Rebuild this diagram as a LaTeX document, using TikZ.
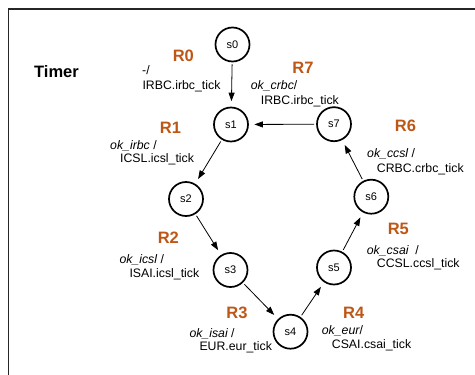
\documentclass[tikz,border=0pt]{standalone}
\usepackage{fontspec}
\setmainfont{Liberation Sans}
\usetikzlibrary{arrows.meta}
\definecolor{rlab}{RGB}{190,86,22}
\tikzset{
  state/.style={circle, draw, line width=1.7pt, minimum size=34pt, inner sep=0pt, font=\fontsize{11}{13}\selectfont},
  trans/.style={-{Triangle[length=8.5pt,width=6pt]}, line width=0.8pt, shorten <=2pt, shorten >=5.5pt},
  rname/.style={font=\fontsize{16.5}{18}\selectfont\bfseries, text=rlab, inner sep=0pt},
  guard/.style={anchor=base west, inner sep=0pt, font=\fontsize{12.3}{14}\selectfont\itshape},
  act/.style={anchor=base west, inner sep=0pt, font=\fontsize{12.3}{14}\selectfont},
  frame/.style={line width=1.2pt, draw=black!85}
}
\begin{document}
\begin{tikzpicture}[x=1pt,y=-1pt]
\useasboundingbox (0,0) rectangle (475,375);
\coordinate (fb) at (8.5,375);
\coordinate (fc) at (8.5,9);
\coordinate (fr) at (475,9);
\draw[frame] (fb) -- (fc) -- (fr);
\node[font=\fontsize{16.5}{18}\selectfont\bfseries, inner sep=0pt] (timer) at (56.5,72) {Timer};
% states
\node[state] (s0) at (232.5,44.5) {s0};
\node[state] (s1) at (231,124.5) {s1};
\node[state] (s2) at (186,199) {s2};
\node[state] (s3) at (230.5,270) {s3};
\node[state] (s4) at (290.5,331.7) {s4};
\node[state] (s5) at (334,267.5) {s5};
\node[state] (s6) at (371.3,196.7) {s6};
\node[state] (s7) at (334,124.2) {s7};
% transitions
\draw[trans] (s0) -- (s1);
\draw[trans] (s1) -- (s2);
\draw[trans] (s2) -- (s3);
\draw[trans] (s3) -- (s4);
\draw[trans] (s4) -- (s5);
\draw[trans] (s5) -- (s6);
\draw[trans] (s6) -- (s7);
\draw[trans] (s7) -- (s1);
% R0
\node[rname] (r0) at (183.3,55.5) {R0};
\node[act] (g0) at (142,74) {-/};
\node[act] (a0) at (142.3,89) {IRBC.irbc\_tick};
% R1
\node[rname] (r1) at (170.5,127.5) {R1};
\node[guard] (g1) at (110,149) {ok\_irbc \upshape/};
\node[act] (a1) at (120,162.5) {ICSL.icsl\_tick};
% R2
\node[rname] (r2) at (168.3,237.8) {R2};
\node[guard] (g2) at (119.3,263) {ok\_icsl \upshape/};
\node[act] (a2) at (129.3,277) {ISAI.icsl\_tick};
% R3
\node[rname] (r3) at (237,313) {R3};
\node[guard] (g3) at (189.3,337) {ok\_isai \upshape/};
\node[act] (a3) at (199.3,350.5) {EUR.eur\_tick};
% R4
\node[rname] (r4) at (353.7,313.3) {R4};
\node[guard] (g4) at (321.7,334) {ok\_eur\upshape/};
\node[act] (a4) at (331.7,348.3) {CSAI.csai\_tick};
% R5
\node[rname] (r5) at (398.3,228.8) {R5};
\node[guard] (g5) at (366.7,254) {ok\_csai\ \ \upshape/};
\node[act] (a5) at (376.7,267.5) {CCSL.ccsl\_tick};
% R6
\node[rname] (r6) at (405.5,126.3) {R6};
\node[guard] (g6) at (367,157) {ok\_ccsl \upshape/};
\node[act] (a6) at (376.7,172) {CRBC.crbc\_tick};
% R7
\node[rname] (r7) at (303,67.5) {R7};
\node[guard] (g7) at (250.7,89) {ok\_crbc\upshape/};
\node[act] (a7) at (260.7,104) {IRBC.irbc\_tick};
\end{tikzpicture}
\end{document}
